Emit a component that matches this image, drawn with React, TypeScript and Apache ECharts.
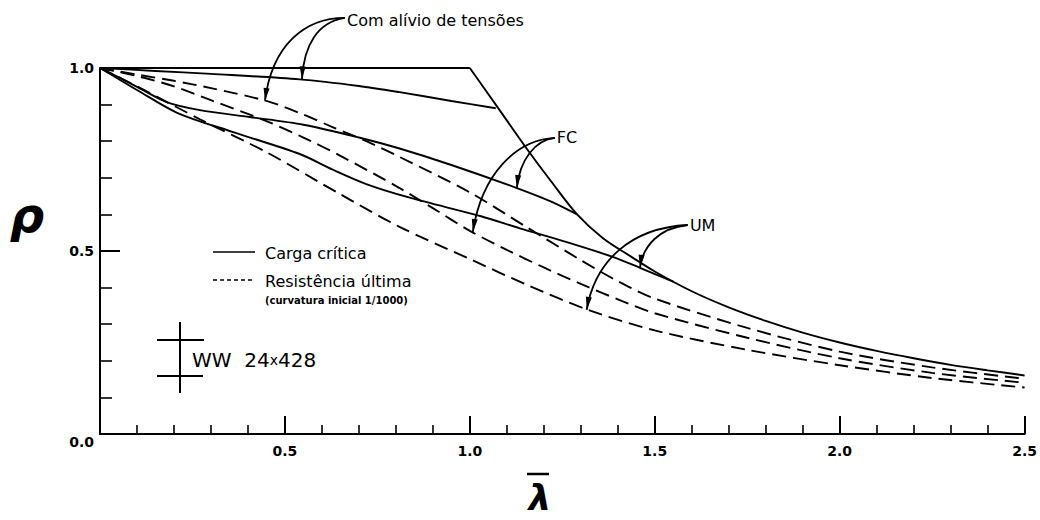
import React, { useEffect, useRef } from "react";
import * as echarts from "echarts";

// ---- data (λ̄, ρ) ----
const envelopeFlat: number[][] = [[0, 1], [1.0, 1.0]];
const envelopeCurve: number[][] = [
  [1.0, 1.0], [1.07, 0.9], [1.15, 0.785], [1.22, 0.69], [1.29, 0.6], [1.36, 0.535],
  [1.44, 0.482], [1.5, 0.444], [1.6, 0.39], [1.7, 0.346], [1.8, 0.309], [1.9, 0.277],
  [2.0, 0.25], [2.1, 0.227], [2.2, 0.207], [2.3, 0.189], [2.4, 0.174], [2.5, 0.16],
];
const aliviaCritica: number[][] = [
  [0, 1], [0.15, 0.992], [0.3, 0.984], [0.54, 0.969], [0.7, 0.951], [0.81, 0.934],
  [0.95, 0.91], [1.07, 0.89],
];
const fcCritica: number[][] = [
  [0, 1], [0.05, 0.975], [0.11, 0.943], [0.18, 0.907], [0.27, 0.885], [0.405, 0.866],
  [0.55, 0.845], [0.7, 0.81], [0.81, 0.78], [0.95, 0.735], [1.127, 0.672], [1.22, 0.635],
  [1.29, 0.6],
];
const umCritica: number[][] = [
  [0, 1], [0.05, 0.97], [0.1, 0.94], [0.21, 0.877], [0.36, 0.825], [0.54, 0.765],
  [0.63, 0.722], [0.72, 0.683], [0.84, 0.645], [1.03, 0.595], [1.135, 0.562],
  [1.26, 0.525], [1.386, 0.484], [1.46, 0.454], [1.55, 0.416],
];
const aliviaUltima: number[][] = [
  [0, 1], [0.1, 0.982], [0.2, 0.965], [0.3, 0.945], [0.45, 0.91], [0.55, 0.873],
  [0.63, 0.838], [0.72, 0.8], [0.81, 0.757], [1.0, 0.66], [1.154, 0.565], [1.3, 0.475],
  [1.405, 0.415], [1.5, 0.37], [1.75, 0.29], [2.0, 0.225], [2.25, 0.182], [2.5, 0.151],
];
const fcUltima: number[][] = [
  [0, 1], [0.1, 0.978], [0.2, 0.95], [0.3, 0.912], [0.45, 0.855], [0.55, 0.81],
  [0.65, 0.76], [0.81, 0.672], [0.9, 0.617], [1.0, 0.555], [1.1, 0.503], [1.2, 0.455],
  [1.3, 0.41], [1.405, 0.366], [1.5, 0.33], [1.75, 0.263], [2.0, 0.207], [2.25, 0.167],
  [2.5, 0.14],
];
const umUltima: number[][] = [
  [0, 1], [0.1, 0.95], [0.27, 0.86], [0.45, 0.77], [0.65, 0.655], [0.81, 0.566],
  [1.0, 0.478], [1.16, 0.405], [1.32, 0.339], [1.5, 0.283], [1.75, 0.23], [2.0, 0.188],
  [2.25, 0.153], [2.5, 0.127],
];

// ---- annotations (data coordinates) ----
const annotations = [
  {
    text: "Com alívio de tensões", label: [0.668, 1.131], start: [0.662, 1.137],
    arrows: [
      { c1: [0.554, 1.137], c2: [0.465, 1.063], tip: [0.446, 0.91] },
      { c1: [0.589, 1.126], c2: [0.551, 1.063], tip: [0.546, 0.969] },
    ],
  },
  {
    text: "FC", label: [1.235, 0.809], start: [1.23, 0.809],
    arrows: [
      { c1: [1.122, 0.803], c2: [1.032, 0.708], tip: [1.008, 0.552] },
      { c1: [1.176, 0.803], c2: [1.135, 0.749], tip: [1.127, 0.672] },
    ],
  },
  {
    text: "UM", label: [1.595, 0.571], start: [1.589, 0.571],
    arrows: [
      { c1: [1.432, 0.563], c2: [1.338, 0.47], tip: [1.316, 0.339] },
      { c1: [1.514, 0.563], c2: [1.468, 0.516], tip: [1.46, 0.454] },
    ],
  },
];

const FONT = "DejaVu Sans";

export default function App() {
  const ref = useRef<HTMLDivElement>(null);
  useEffect(() => {
    const chart = echarts.init(ref.current!, null, { renderer: "svg" });
    const line = (name: string, data: number[][], dashed: boolean, smooth: number | boolean = 0.3) => ({
      type: "line",
      name,
      data,
      smooth,
      symbol: "none",
      clip: false,
      silent: true,
      lineStyle: { color: "#000", width: 1.9, type: dashed ? [14, 7] : "solid" },
    });
    chart.setOption({
      animation: false,
      backgroundColor: "#fff",
      grid: { left: 100, right: 15, top: 68, bottom: 86 },
      xAxis: {
        type: "value", min: 0, max: 2.5, interval: 0.5,
        axisLine: { lineStyle: { color: "#000", width: 2 } },
        axisTick: { inside: true, length: 18, lineStyle: { color: "#000", width: 2 } },
        minorTick: { show: true, splitNumber: 5, length: 9, lineStyle: { color: "#000", width: 1.6 } },
        splitLine: { show: false },
        axisLabel: {
          formatter: (v: number) => (v === 0 ? "" : v.toFixed(1)),
          color: "#000", fontSize: 14, fontWeight: "bold", fontFamily: FONT, margin: 10,
        },
      },
      yAxis: {
        type: "value", min: 0, max: 1, interval: 0.5,
        axisLine: { show: true, lineStyle: { color: "#000", width: 2 } },
        axisTick: { show: true, inside: true, length: 20, lineStyle: { color: "#000", width: 2 } },
        minorTick: { show: true, splitNumber: 5, length: 12, lineStyle: { color: "#000", width: 1.6 } },
        splitLine: { show: false },
        axisLabel: {
          formatter: (v: number) => (v === 0 ? "{z|0.0}" : v.toFixed(1)),
          color: "#000", fontSize: 14, fontWeight: "bold", fontFamily: FONT, margin: 6,
          rich: { z: { padding: [16, 0, 0, 0], color: "#000", fontSize: 14, fontWeight: "bold", fontFamily: FONT } },
        },
      },
      series: [
        line("envelopeFlat", envelopeFlat, false, false),
        line("envelopeCurve", envelopeCurve, false, 0.3),
        line("aliviaCritica", aliviaCritica, false),
        line("fcCritica", fcCritica, false),
        line("umCritica", umCritica, false),
        line("aliviaUltima", aliviaUltima, true),
        line("fcUltima", fcUltima, true),
        line("umUltima", umUltima, true),
      ],
    });

    const P = (d: number[]) => chart.convertToPixel({ gridIndex: 0 }, d) as number[];
    const g: any[] = [];
    annotations.forEach((a) => {
      const lp = P(a.label);
      g.push({
        type: "text", x: lp[0], y: lp[1],
        style: { text: a.text, fill: "#000", font: `16px ${FONT}`, textVerticalAlign: "middle", textAlign: "left" },
      });
      const s = P(a.start);
      a.arrows.forEach((ar) => {
        const c1 = P(ar.c1), c2 = P(ar.c2), t = P(ar.tip);
        g.push({
          type: "bezierCurve",
          shape: { x1: s[0], y1: s[1], cpx1: c1[0], cpy1: c1[1], cpx2: c2[0], cpy2: c2[1], x2: t[0], y2: t[1] },
          style: { stroke: "#000", lineWidth: 1.8, fill: "none" },
        });
        let dx = t[0] - c2[0], dy = t[1] - c2[1];
        const len = Math.hypot(dx, dy) || 1;
        dx /= len; dy /= len;
        const L = 13, W = 3;
        const bx = t[0] - dx * L, by = t[1] - dy * L;
        g.push({
          type: "polygon",
          shape: { points: [[t[0], t[1]], [bx - dy * W, by + dx * W], [bx + dy * W, by - dx * W]] },
          style: { fill: "#000" },
        });
      });
    });
    // legend
    g.push({ type: "line", shape: { x1: 213, y1: 252, x2: 255, y2: 252 }, style: { stroke: "#000", lineWidth: 1.6 } });
    g.push({ type: "text", x: 265, y: 253, style: { text: "Carga crítica", fill: "#000", font: `16px ${FONT}`, textVerticalAlign: "middle" } });
    g.push({ type: "line", shape: { x1: 213, y1: 280, x2: 255, y2: 280 }, style: { stroke: "#000", lineWidth: 1.6, lineDash: [4, 3] } });
    g.push({ type: "text", x: 265, y: 281, style: { text: "Resistência última", fill: "#000", font: `16px ${FONT}`, textVerticalAlign: "middle" } });
    g.push({ type: "text", x: 265, y: 300, style: { text: "(curvatura inicial 1/1000)", fill: "#000", font: `bold 10px ${FONT}`, textVerticalAlign: "middle" } });
    // section symbol
    g.push({ type: "line", shape: { x1: 180, y1: 322, x2: 180, y2: 393 }, style: { stroke: "#000", lineWidth: 2 } });
    g.push({ type: "line", shape: { x1: 157, y1: 340, x2: 204, y2: 340 }, style: { stroke: "#000", lineWidth: 2 } });
    g.push({ type: "line", shape: { x1: 157, y1: 376, x2: 203, y2: 376 }, style: { stroke: "#000", lineWidth: 2 } });
    g.push({
      type: "text", x: 192, y: 360,
      style: {
        text: "WW  24{s|x}428", fill: "#000", font: `20px ${FONT}`, textVerticalAlign: "middle",
        rich: { s: { fontSize: 14, fontFamily: FONT, fill: "#000" } },
      },
    });
    // axis titles
    g.push({ type: "text", x: 27, y: 215, style: { text: "ρ", fill: "#000", font: `italic bold 48px ${FONT}`, textAlign: "center", textVerticalAlign: "middle" } });
    g.push({ type: "line", shape: { x1: 527, y1: 474, x2: 549, y2: 474 }, style: { stroke: "#000", lineWidth: 2.5 } });
    g.push({ type: "text", x: 540, y: 497, style: { text: "λ", fill: "#000", font: `italic bold 36px ${FONT}`, textAlign: "center", textVerticalAlign: "middle" } });

    chart.setOption({ graphic: g });
    return () => chart.dispose();
  }, []);
  return <div ref={ref} style={{ position: "fixed", left: 0, top: 0, width: 1040, height: 520, background: "#fff" }} />;
}
